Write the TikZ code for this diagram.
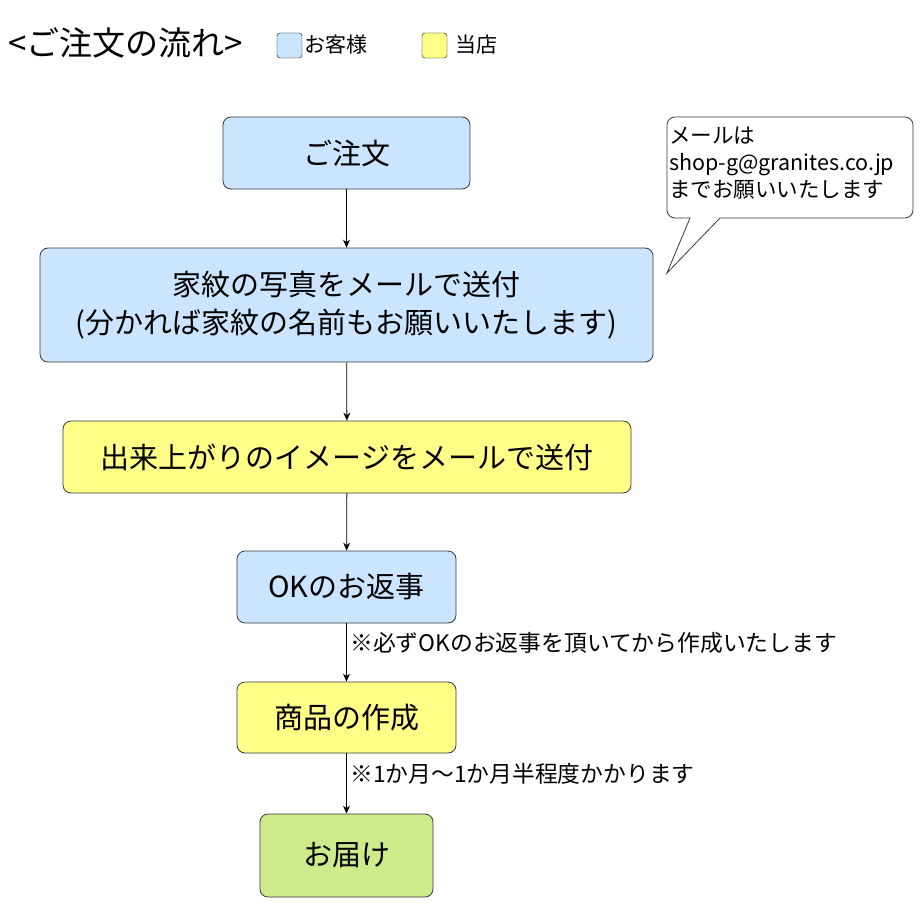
\documentclass[tikz,border=0pt]{standalone}
\usepackage{fontspec}
\setmainfont{Noto Sans CJK JP}
\usetikzlibrary{arrows.meta}
\definecolor{cblue}{HTML}{CCE5FF}
\definecolor{cyel}{HTML}{FFFF88}
\definecolor{cgreen}{HTML}{CDEB8B}
\definecolor{cline}{HTML}{36393D}
\tikzset{
 box/.style={draw=cline,rounded corners=8pt,line width=0.8pt,inner sep=0pt,font=\fontsize{29}{38}\selectfont,align=center},
 arr/.style={-{Stealth[length=8pt,width=7pt]},line width=0.8pt,black},
 note/.style={anchor=west,font=\fontsize{22.8}{24}\selectfont,inner sep=0pt},
 leg/.style={draw=black,rounded corners=3pt,minimum width=25pt,minimum height=25pt,inner sep=0pt}
}
\begin{document}
\begin{tikzpicture}[x=1pt,y=-1pt]
\useasboundingbox (0,0) rectangle (920,920);
\node[anchor=west,inner sep=0pt,font=\fontsize{33}{36}\selectfont] (title) at (8,43) {<ご注文の流れ>};
\node[leg,fill=cblue] (l1) at (289.5,45.5) {};
\node[anchor=west,inner sep=0pt,font=\fontsize{21}{24}\selectfont] (l1t) at (304,45) {お客様};
\node[leg,fill=cyel] (l2) at (434.5,45.5) {};
\node[anchor=west,inner sep=0pt,font=\fontsize{21}{24}\selectfont] (l2t) at (455,45) {当店};

\node[box,fill=cblue,minimum width=247pt,minimum height=72pt] (a) at (346.5,153) {ご注文};
\node[box,fill=cblue,minimum width=613pt,minimum height=114pt] (b) at (346.5,305) {家紋の写真をメールで送付\\(分かれば家紋の名前もお願いいたします)};
\node[box,fill=cyel,minimum width=568pt,minimum height=72pt] (c) at (347,457) {出来上がりのイメージをメールで送付};
\node[box,fill=cblue,minimum width=219pt,minimum height=72pt] (d) at (346.5,587) {OKのお返事};
\node[box,fill=cyel,minimum width=219pt,minimum height=71pt] (e) at (346.5,717.5) {商品の作成};
\node[box,fill=cgreen,minimum width=173pt,minimum height=83pt] (f) at (346.5,855.5) {お届け};

\draw[arr] (a) -- (b);
\draw[arr] (b) -- (c);
\draw[arr] (c) -- (d);
\draw[arr] (d) -- (e);
\draw[arr] (e) -- (f);

\node[note] (n1) at (350,643) {※必ずOKのお返事を頂いてから作成いたします};
\node[note] (n2) at (350,774) {※1か月～1か月半程度かかります};

\draw[cline,line width=0.8pt,fill=white] (720,218) -- (905,218) to[out=0,in=-90] (913,210) -- (913,125) to[out=90,in=0] (905,117) -- (675,117) to[out=180,in=90] (667,125) -- (667,210) to[out=-90,in=180] (675,218) -- (690,218) -- (667,273) -- cycle;
\node[anchor=north west,inner sep=0pt,align=left,font=\fontsize{21.5}{27}\selectfont] (call) at (669,127) {メールは\\shop-g@granites.co.jp\\までお願いいたします};
\end{tikzpicture}
\end{document}
